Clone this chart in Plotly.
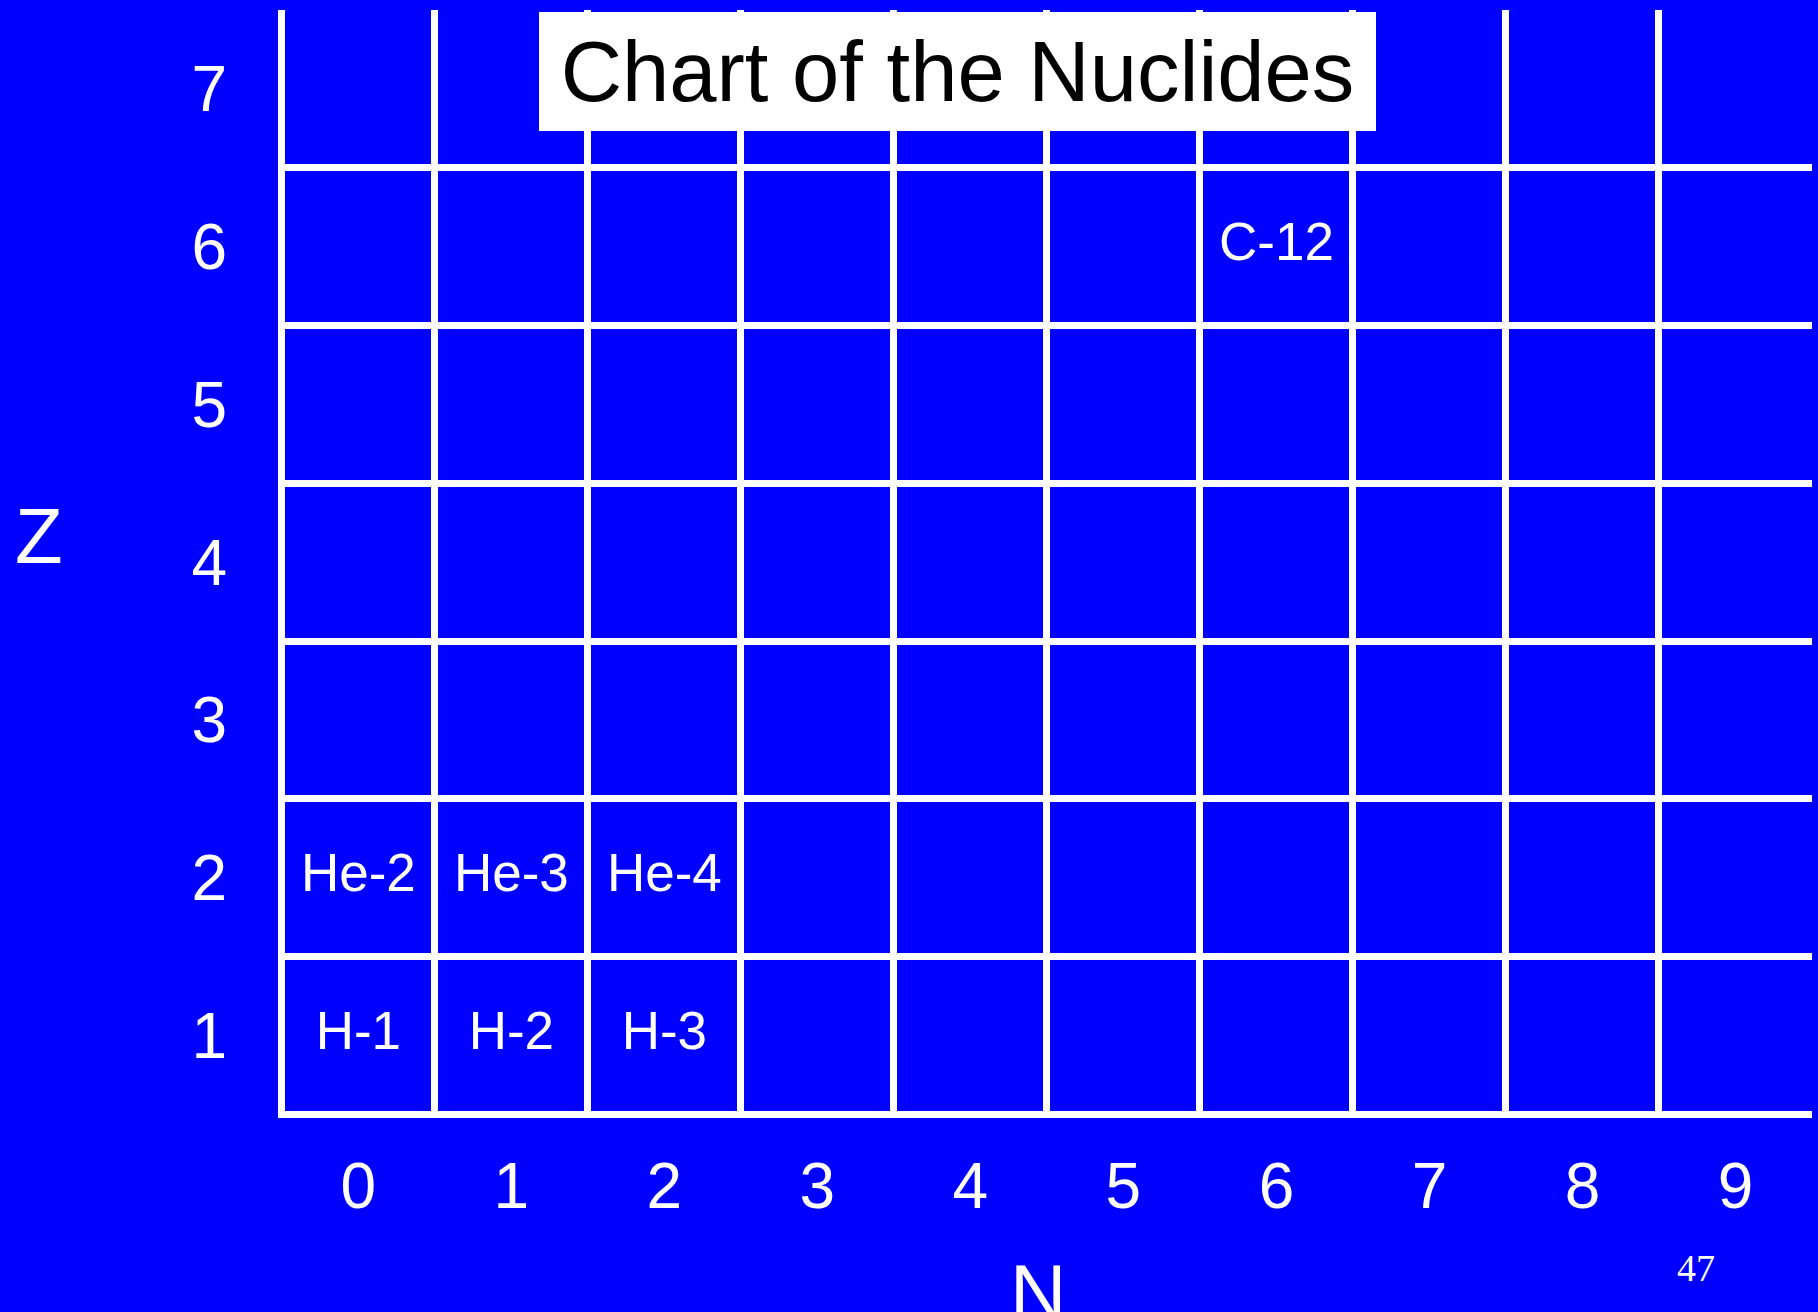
import plotly.graph_objects as go

# ---- data ----
n_values = [0, 1, 2, 3, 4, 5, 6, 7, 8, 9]
z_values = [1, 2, 3, 4, 5, 6, 7]
nuclide_labels = ["H-1", "H-2", "H-3", "He-2", "He-3", "He-4", "C-12"]
nuclide_N = [0, 1, 2, 0, 1, 2, 6]
nuclide_Z = [1, 1, 1, 2, 2, 2, 6]

# cell boundaries (between integer values)
n_bounds = [n - 0.5 for n in n_values]          # vertical lines
z_bounds = [z - 0.5 for z in z_values]          # horizontal lines

BLUE = "#0000FF"
FONT = "Liberation Sans, Arial, sans-serif"

fig = go.Figure()
fig.add_trace(go.Scatter(
    x=nuclide_N, y=nuclide_Z, text=nuclide_labels, mode="text",
    textposition="middle center",
    textfont=dict(family=FONT, size=53, color="white"),
    hoverinfo="skip", showlegend=False,
))

W, H = 1818, 1312
ml, mr, mt, mb = 278, 6, 10, 194
pw, ph = W - ml - mr, H - mt - mb


def px_x(px):
    return (px - ml) / pw


def px_y(py):
    return (H - mb - py) / ph


fig.update_layout(
    width=W, height=H,
    margin=dict(l=ml, r=mr, t=mt, b=mb, pad=0),
    paper_bgcolor=BLUE, plot_bgcolor=BLUE,
    font=dict(family=FONT, color="white"),
    showlegend=False,
)

fig.update_xaxes(
    range=[-0.525, 9.5], tickmode="array", tickvals=n_values,
    ticktext=[str(n) for n in n_values],
    tickfont=dict(family=FONT, size=64, color="white"),
    ticks="", ticklabelstandoff=25,
    showgrid=False, zeroline=False, showline=False,
    minor=dict(tickmode="array", tickvals=n_bounds, showgrid=True,
               gridcolor="white", gridwidth=7, ticks=""),
    fixedrange=True,
)
fig.update_yaxes(
    range=[0.477, 7.5], tickmode="array", tickvals=z_values,
    ticktext=[str(z) for z in z_values],
    tickfont=dict(family=FONT, size=64, color="white"),
    ticks="", ticklabelstandoff=50,
    showgrid=False, zeroline=False, showline=False,
    minor=dict(tickmode="array", tickvals=z_bounds, showgrid=True,
               gridcolor="white", gridwidth=7, ticks=""),
    fixedrange=True,
)

# title box
fig.add_annotation(
    text="Chart of the Nuclides", xref="paper", yref="paper",
    x=px_x(957.7), y=px_y(71.3), xanchor="center", yanchor="middle",
    showarrow=False, bgcolor="white", borderpad=0, borderwidth=0,
    width=837, height=119, align="center", valign="middle",
    font=dict(family=FONT, size=85, color="black"),
)
# axis titles
fig.add_annotation(
    text="Z", xref="paper", yref="paper", x=px_x(39.4), y=px_y(535.6),
    xanchor="center", yanchor="middle", showarrow=False,
    font=dict(family=FONT, size=78, color="white"),
)
fig.add_annotation(
    text="N", xref="paper", yref="paper", x=px_x(1037.7), y=px_y(1292),
    xanchor="center", yanchor="middle", showarrow=False,
    font=dict(family=FONT, size=78, color="white"),
)
# page number
fig.add_annotation(
    text="47", xref="paper", yref="paper", x=px_x(1696), y=px_y(1268),
    xanchor="center", yanchor="middle", showarrow=False,
    font=dict(family="Liberation Serif, Times New Roman, serif", size=38,
              color="white"),
)

post = ("document.body.style.margin='0';document.body.style.padding='0';"
        "document.body.style.background='#0000FF';"
        "document.documentElement.style.overflow='hidden';"
        "document.body.style.overflow='hidden';")

fig.write_html("out.html", config={"displayModeBar": False}, post_script=post)
